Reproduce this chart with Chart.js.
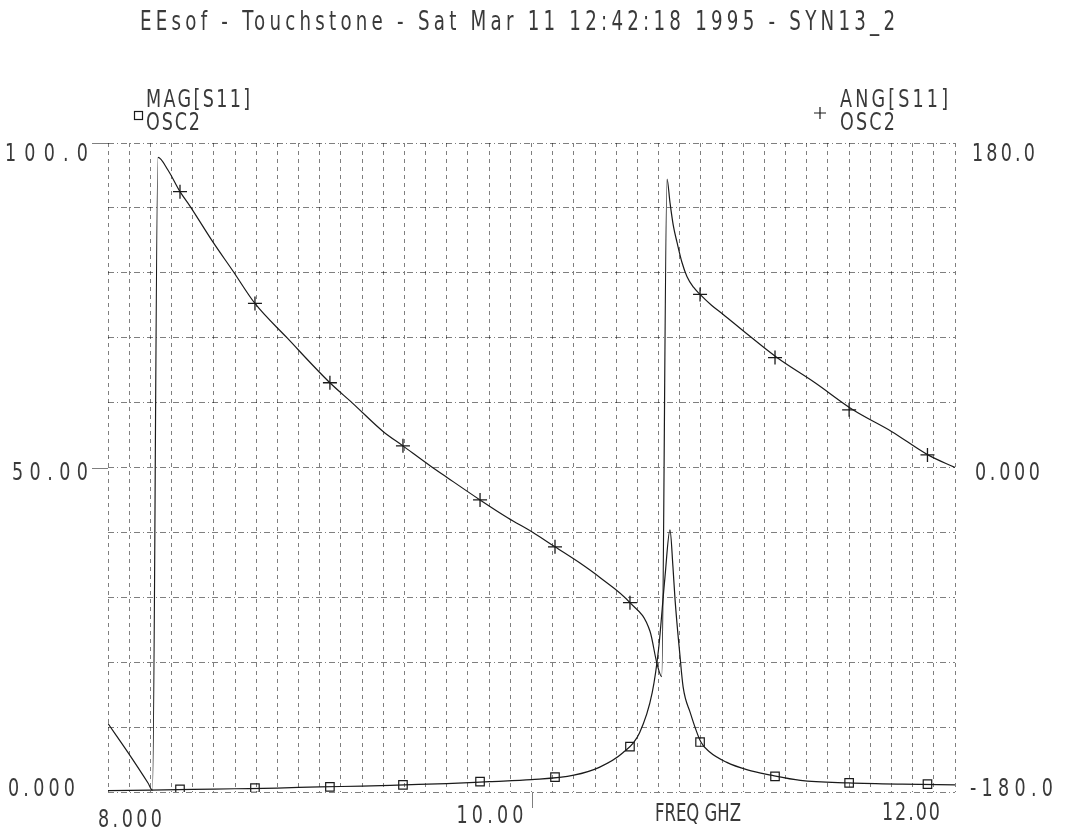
<!DOCTYPE html>
<html>
<head>
<meta charset="utf-8">
<title>EEsof Touchstone - SYN13_2</title>
<script src="https://cdn.jsdelivr.net/npm/chart.js@4.4.1/dist/chart.umd.min.js"></script>
<style>
    body { margin: 0; background: #fff; }
    #plot { display: block; }
</style>
</head>
<body>
<canvas id="plot" width="1066" height="833"></canvas>
<script>
// values
var magFreq = [8.0, 8.2, 8.4, 8.6, 8.8, 9.0, 9.2, 9.4, 9.6, 9.8, 10.0, 10.2, 10.32, 10.43, 10.51, 10.57,
    10.60, 10.63, 10.654, 10.668, 10.678, 10.70, 10.716, 10.75, 10.80, 10.84, 10.92, 11.02, 11.13, 11.27, 11.5, 11.75, 12.0];
var magVal = [0.2, 0.3, 0.4, 0.5, 0.6, 0.8, 0.9, 1.1, 1.3, 1.6, 1.9, 2.6, 3.8, 6.0, 9.1, 15.3,
    22, 33, 40.4, 34.7, 29.6, 21.4, 16.2, 12.2, 7.7, 6.2, 4.6, 3.4, 2.6, 1.8, 1.4, 1.2, 1.1];

var angFreq = [8.0, 8.094, 8.189, 8.21, 8.236, 8.283, 8.34, 8.387, 8.496, 8.59, 8.694, 8.845, 9.048, 9.152,
    9.299, 9.393, 9.521, 9.601, 9.757, 9.889, 10.007, 10.111, 10.229, 10.323, 10.465, 10.56, 10.593, 10.615,
    10.64, 10.654, 10.67, 10.687, 10.71, 10.734, 10.765, 10.796, 10.85, 10.904, 11.008, 11.159, 11.339, 11.518,
    11.7, 11.872, 12.0];
var angDeg = [-142, -158, -175, -179, 172, 165, 153, 145, 125, 109, 91, 72, 47, 36,
    20, 12, 1, -5.5, -18, -28, -36, -44, -53, -61, -75, -91, -109, -116,
    160, 147, 134, 125, 114, 106, 100, 96, 90, 85, 75, 61, 47, 32,
    20, 7, 0];

// marker frequencies (same for both traces)
var markerFreq = [8.34, 8.694, 9.048, 9.393, 9.757, 10.111, 10.465, 10.796, 11.15, 11.50, 11.87];
var angMarkerDeg = [153, 91, 47, 12, -18, -44, -75, 96, 61, 32, 7];
var magMarkerVal = [0.4, 0.6, 0.8, 1.1, 1.6, 2.3, 7.0, 7.7, 2.4, 1.4, 1.2];

var magTicks = ['100.0', '50.00', '0.000'];
var angTicks = ['180.0', '0.000', '-180.0'];
var freqTicks = ['8.000', '10.00', '12.00'];

var ink = '#1a1a1a';
var gridInk = 'rgba(0,0,0,0.5)';
var fontName = '"Liberation Sans Narrow", "DejaVu Sans Condensed", "Liberation Sans", sans-serif';

function pairs(xs, ys) {
    return xs.map(function (x, i) { return { x: x, y: ys[i] }; });
}

// plotter text: narrow glyphs, spread out to the width the string has in the plot
function spaced(ctx, text, left, cy, width, size) {
    ctx.font = size + 'px ' + fontName;
    ctx.letterSpacing = '0px';
    var w = ctx.measureText(text).width;
    var k = 0.78;
    var gap = text.length > 1 ? (width - w * k) / (text.length - 1) : 0;
    if (gap < 0) { k = width / w; gap = 0; }
    ctx.save();
    ctx.translate(left, cy);
    ctx.scale(k, 1);
    ctx.letterSpacing = (gap / k) + 'px';
    ctx.textAlign = 'left';
    ctx.textBaseline = 'middle';
    ctx.fillText(text, 0, 0);
    ctx.restore();
}

var plotterText = {
    id: 'plotterText',
    afterDraw: function (chart) {
        var ctx = chart.ctx;
        var x = chart.scales.x, y = chart.scales.y, y1 = chart.scales.y1;
        var area = chart.chartArea;
        ctx.save();
        ctx.fillStyle = '#3a3a3a';

        spaced(ctx, 'EEsof - Touchstone - Sat Mar 11 12:42:18 1995 - SYN13_2', 140, 23, 755, 26);

        // legends
        spaced(ctx, 'MAG[S11]', 146, 100, 104, 25);
        spaced(ctx, 'OSC2', 146, 123, 54, 25);
        spaced(ctx, 'ANG[S11]', 840, 100, 108, 25);
        spaced(ctx, 'OSC2', 840, 123, 55, 25);

        ctx.strokeStyle = ink;
        ctx.lineWidth = 1.2;
        ctx.strokeRect(134.5, 111.5, 8, 8);
        ctx.beginPath();
        ctx.moveTo(814, 113); ctx.lineTo(826, 113);
        ctx.moveTo(820, 107); ctx.lineTo(820, 119);
        ctx.stroke();

        // left axis labels
        spaced(ctx, magTicks[0], 5, y.getPixelForValue(100) + 11, 83, 25);
        spaced(ctx, magTicks[1], 12, y.getPixelForValue(50) + 6, 76, 25);
        spaced(ctx, magTicks[2], 8, y.getPixelForValue(0) - 3, 67, 25);

        // right axis labels
        spaced(ctx, angTicks[0], 972, y1.getPixelForValue(180) + 11, 63, 25);
        spaced(ctx, angTicks[1], 975, y1.getPixelForValue(0) + 6, 65, 25);
        spaced(ctx, angTicks[2], 970, y1.getPixelForValue(-180) - 3, 83, 25);

        // frequency labels
        spaced(ctx, freqTicks[0], x.getPixelForValue(8) - 10, 820, 64, 25);
        spaced(ctx, freqTicks[1], x.getPixelForValue(10) - 75, 816, 67, 25);
        spaced(ctx, freqTicks[2], x.getPixelForValue(12) - 73, 813, 58, 25);
        spaced(ctx, 'FREQ GHZ', 655, 814, 86, 25);

        // long ticks of the plotter frame
        ctx.strokeStyle = gridInk;
        ctx.lineWidth = 1;
        ctx.beginPath();
        var xm = Math.round(x.getPixelForValue(10)) + 0.5;
        ctx.moveTo(xm, area.bottom); ctx.lineTo(xm, area.bottom + 16);
        [100, 50].forEach(function (v) {
            var yy = Math.round(y.getPixelForValue(v)) + 0.5;
            ctx.moveTo(area.left - 16, yy); ctx.lineTo(area.left, yy);
        });
        ctx.stroke();
        ctx.restore();
    }
};

var gridOpts = { color: gridInk, lineWidth: 1, drawTicks: false };

new Chart(document.getElementById('plot'), {
    type: 'scatter',
    data: {
        datasets: [
            {
                label: 'ANG[S11]',
                data: pairs(angFreq, angDeg),
                yAxisID: 'y1',
                showLine: true,
                cubicInterpolationMode: 'monotone',
                borderColor: ink,
                borderWidth: 1.2,
                pointRadius: 0
            },
            {
                label: 'MAG[S11]',
                data: pairs(magFreq, magVal),
                yAxisID: 'y',
                showLine: true,
                cubicInterpolationMode: 'monotone',
                borderColor: ink,
                borderWidth: 1.2,
                pointRadius: 0
            },
            {
                label: 'ANG markers',
                data: pairs(markerFreq, angMarkerDeg),
                yAxisID: 'y1',
                pointStyle: 'cross',
                pointRadius: 7,
                borderColor: ink,
                borderWidth: 1.3
            },
            {
                label: 'MAG markers',
                data: pairs(markerFreq, magMarkerVal),
                yAxisID: 'y',
                pointStyle: 'rect',
                pointRadius: 6,
                borderColor: ink,
                backgroundColor: 'rgba(0,0,0,0)',
                borderWidth: 1.2
            }
        ]
    },
    options: {
        responsive: false,
        animation: false,
        layout: { padding: { left: 108, right: 111, top: 143, bottom: 41 } },
        plugins: {
            legend: { display: false },
            tooltip: { enabled: false }
        },
        scales: {
            x: {
                type: 'linear',
                min: 8,
                max: 12,
                ticks: { display: false, stepSize: 0.1 },
                grid: gridOpts,
                border: { display: false, dash: [4, 4] }
            },
            y: {
                position: 'left',
                min: 0,
                max: 100,
                ticks: { display: false, stepSize: 10 },
                grid: gridOpts,
                border: { display: false, dash: [6, 3, 1, 3] }
            },
            y1: {
                position: 'right',
                min: -180,
                max: 180,
                ticks: { display: false, stepSize: 36 },
                grid: { display: false, drawTicks: false },
                border: { display: false }
            }
        }
    },
    plugins: [plotterText]
});
</script>
</body>
</html>
